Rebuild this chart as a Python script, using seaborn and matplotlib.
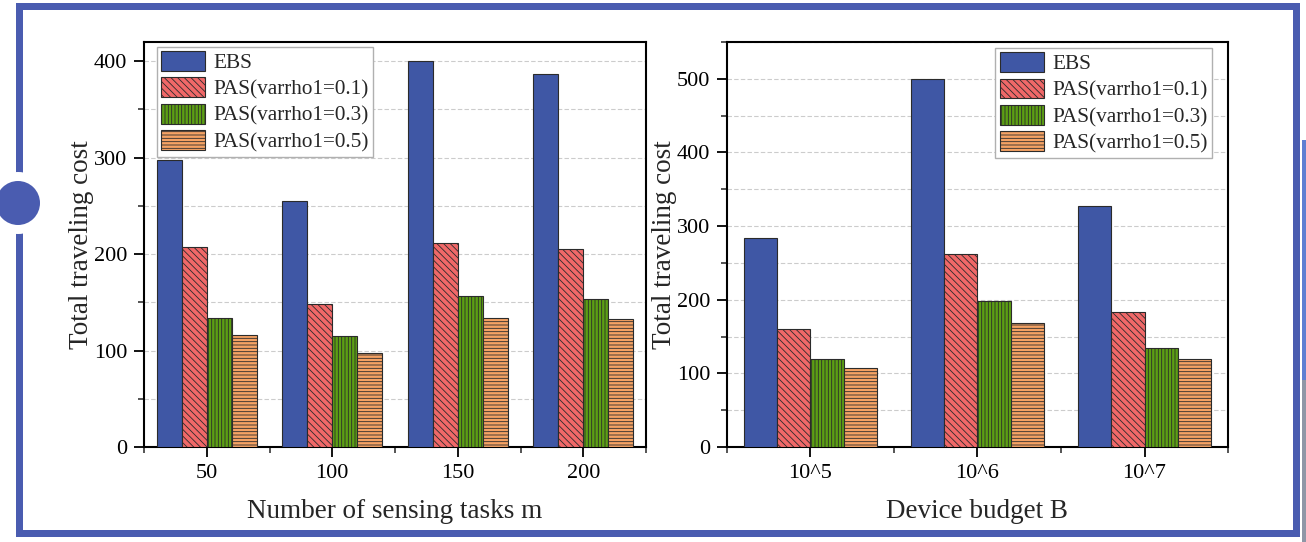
import numpy as np
import pandas as pd
import matplotlib
matplotlib.use("Agg")
import matplotlib.pyplot as plt
import seaborn as sns
from matplotlib.patches import Patch, Rectangle, Ellipse
from matplotlib.ticker import MultipleLocator, FixedLocator

# ---- data -------------------------------------------------------------
series_names = ["EBS", "PAS(varrho1=0.1)", "PAS(varrho1=0.3)", "PAS(varrho1=0.5)"]

task_labels = ["50", "100", "150", "200"]
task_ebs = [298, 255, 400, 387]
task_pas01 = [207, 148, 212, 205]
task_pas03 = [134, 115, 157, 154]
task_pas05 = [116, 98, 134, 133]

budget_labels = ["10^5", "10^6", "10^7"]
budget_ebs = [284, 500, 327]
budget_pas01 = [160, 262, 184]
budget_pas03 = [120, 198, 135]
budget_pas05 = [107, 168, 119]

# ---- style ------------------------------------------------------------
colors = ["#3f57a5", "#f06868", "#5c9f14", "#f5a264"]
hatches = ["", "\\\\\\\\\\", "|||||", "-----"]
edge = "#2b2b2b"
frame_blue = "#4a5cb0"

sns.set_theme(style="ticks")
plt.rcParams["font.family"] = ["Liberation Serif", "DejaVu Serif"]
plt.rcParams["hatch.linewidth"] = 0.6
plt.rcParams["axes.edgecolor"] = "black"

W, H = 1306, 542
fig = plt.figure(figsize=(W / 100, H / 100), dpi=100)
fig.patch.set_facecolor("white")


def to_long(labels, *series):
    rows = []
    for name, vals in zip(series_names, series):
        for lab, v in zip(labels, vals):
            rows.append({"x": lab, "series": name, "value": v})
    return pd.DataFrame(rows)


def draw_panel(ax, labels, series, ymax, xlabel, legend_loc, legend_anchor):
    df = to_long(labels, *series)
    sns.barplot(data=df, x="x", y="value", hue="series", order=labels,
                hue_order=series_names, palette=colors, width=0.8, gap=0,
                saturation=1, edgecolor=edge, linewidth=0.8, legend=False,
                zorder=3, ax=ax)
    for container, h in zip(ax.containers, hatches):
        for bar in container:
            bar.set_hatch(h)

    n = len(labels)
    ax.set_xlim(-0.5, n - 0.5)
    ax.set_ylim(0, ymax)
    ax.yaxis.set_major_locator(MultipleLocator(100))
    ax.yaxis.set_minor_locator(MultipleLocator(50))
    ax.xaxis.set_minor_locator(FixedLocator(np.arange(-0.5, n, 1.0)))
    ax.grid(axis="y", which="both", color="#cccccc", linestyle=(0, (4, 2)),
            linewidth=0.8)
    ax.set_axisbelow(True)

    ax.tick_params(axis="both", which="major", direction="out", length=7,
                   width=1.3, labelsize=16, colors="black", bottom=True,
                   left=True, pad=5)
    ax.tick_params(axis="both", which="minor", direction="out", length=4,
                   width=1.1, bottom=True, left=True)
    for sp in ax.spines.values():
        sp.set_visible(True)
        sp.set_linewidth(1.5)
        sp.set_color("black")

    ax.set_xlabel(xlabel, fontsize=19.5, labelpad=12)
    ax.set_ylabel("Total traveling cost", fontsize=19.5, labelpad=0)

    handles = [Patch(facecolor=c, edgecolor=edge, hatch=h, linewidth=0.8)
               for c, h in zip(colors, hatches)]
    leg = ax.legend(handles, series_names, loc=legend_loc,
                    bbox_to_anchor=legend_anchor, borderaxespad=0,
                    fontsize=15.3, frameon=True, fancybox=False,
                    framealpha=1, edgecolor="#b0b0b0", borderpad=0.2,
                    handlelength=2.1, handleheight=1.05, labelspacing=0.2,
                    handletextpad=0.38)
    leg.get_frame().set_linewidth(1.0)


def px_box(x0, y0, x1, y1):
    return [x0 / W, 1 - y1 / H, (x1 - x0) / W, (y1 - y0) / H]


ax1 = fig.add_axes(px_box(144, 42, 646, 447))
ax2 = fig.add_axes(px_box(727, 42, 1228, 447))

draw_panel(ax1, task_labels, [task_ebs, task_pas01, task_pas03, task_pas05],
           420, "Number of sensing tasks m", "upper left", (0.025, 0.988))
draw_panel(ax2, budget_labels,
           [budget_ebs, budget_pas01, budget_pas03, budget_pas05],
           550, "Device budget B", "upper right", (0.968, 0.985))


# ---- slide frame around the figure ------------------------------------
def add_rect(x0, y0, x1, y1, color):
    fig.add_artist(Rectangle((x0 / W, 1 - y1 / H), (x1 - x0) / W,
                             (y1 - y0) / H, transform=fig.transFigure,
                             facecolor=color, edgecolor="none", zorder=10))


add_rect(16, 3, 1300, 10, frame_blue)
add_rect(16, 3, 23, 537, frame_blue)
add_rect(1293, 3, 1300, 537, frame_blue)
add_rect(16, 530, 1300, 537, frame_blue)
add_rect(1302, 140, W, 380, "#5f7fd2")
add_rect(1302, 380, W, H, "#8f96a6")

for r, col in [(31, "white"), (22, frame_blue)]:
    fig.add_artist(Ellipse((18 / W, 1 - 203 / H), 2 * r / W, 2 * r / H,
                           transform=fig.transFigure, facecolor=col,
                           edgecolor="none", zorder=11))

fig.savefig("out.png", dpi=100)
